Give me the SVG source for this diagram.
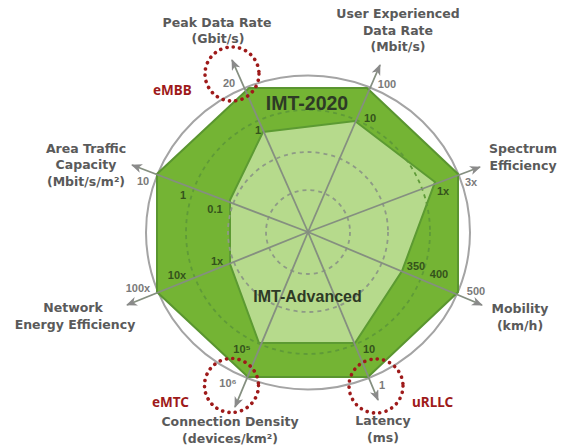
<svg xmlns="http://www.w3.org/2000/svg" width="561" height="447" viewBox="0 0 561 447">
<defs>
<marker id="arr" markerUnits="userSpaceOnUse" markerWidth="12" markerHeight="10" refX="10" refY="4.5" orient="auto">
<path d="M0,0 L11,4.5 L0,9 L3,4.5 z" fill="#8a8a8a"/>
</marker>
<style>
.lbl{font-family:"DejaVu Sans",sans-serif;font-weight:bold;font-size:12.5px;fill:#5a5a5a;text-anchor:middle}
.num{font-family:"Liberation Sans",Arial,sans-serif;font-weight:bold;font-size:11px;text-anchor:middle}
.out{fill:#7a7a7a}
.in{fill:#34531c}
.axis{stroke:#858f80;stroke-width:1.8;fill:none}
.red{fill:none;stroke:#9e1a1a;stroke-width:3.6;stroke-dasharray:0.1 6.3;stroke-linecap:round}
.redt{font-family:"Noto Sans",sans-serif;font-weight:bold;font-size:13.5px;fill:#9e1a1a}
.title{font-family:"Liberation Sans",Arial,sans-serif;font-weight:bold;fill:#2e3a26;text-anchor:middle}
</style>
</defs>
<rect width="561" height="447" fill="#ffffff"/>

<g id="chart">
<ellipse cx="308" cy="232.5" rx="162" ry="157" fill="none" stroke="#a4a4a4" stroke-width="2"/>
<polygon id="imt2020" points="249,88 367,88 458,174 458,292 368,377 248,377 157,292 157,174" fill="#74b434" stroke="#5a9530" stroke-width="2"/>
<polygon id="imtadv" points="263,132 355,121 435,182 402,271 355,343 259,343 230,264 230,200" fill="#b6da8c" stroke="#5c9a32" stroke-width="2"/>
<circle cx="308" cy="232" r="42" fill="none" stroke="#8e9a86" stroke-width="1.8" stroke-dasharray="4 4"/>
<circle cx="308" cy="232" r="80" fill="none" stroke="#8e9a86" stroke-width="1.8" stroke-dasharray="4 4"/>
<circle cx="308" cy="232" r="122" fill="none" stroke="#5f9a38" stroke-width="1.8" stroke-dasharray="4 4"/>
</g>

<g id="connectors">
<line class="axis" x1="308" y1="232" x2="232" y2="60" marker-end="url(#arr)"/>
<line class="axis" x1="308" y1="232" x2="380" y2="65" marker-end="url(#arr)"/>
<line class="axis" x1="308" y1="232" x2="480" y2="167" marker-end="url(#arr)"/>
<line class="axis" x1="308" y1="232" x2="482" y2="305" marker-end="url(#arr)"/>
<line class="axis" x1="308" y1="232" x2="378" y2="400" marker-end="url(#arr)"/>
<line class="axis" x1="308" y1="232" x2="235" y2="407" marker-end="url(#arr)"/>
<line class="axis" x1="308" y1="232" x2="127" y2="305" marker-end="url(#arr)"/>
<line class="axis" x1="308" y1="232" x2="132" y2="165" marker-end="url(#arr)"/>
</g>

<g id="titles">
<text class="title" x="307" y="110" font-size="19.5">IMT-2020</text>
<text class="title" x="307.5" y="302" font-size="16">IMT-Advanced</text>
</g>

<g id="peak">
<text class="lbl" x="217" y="27">Peak Data Rate</text>
<text class="lbl" x="218" y="43">(Gbit/s)</text>
<text class="num out" x="229" y="87">20</text>
<text class="num in" x="258" y="134">1</text>
</g>
<g id="user">
<text class="lbl" x="398" y="18">User Experienced</text>
<text class="lbl" x="398" y="35">Data Rate</text>
<text class="lbl" x="398" y="51">(Mbit/s)</text>
<text class="num out" x="387" y="88">100</text>
<text class="num in" x="370" y="122">10</text>
</g>
<g id="spectrum">
<text class="lbl" x="523" y="153">Spectrum</text>
<text class="lbl" x="523" y="170">Efficiency</text>
<text class="num out" x="471" y="186">3x</text>
<text class="num in" x="443" y="195">1x</text>
</g>
<g id="mobility">
<text class="lbl" x="520" y="313">Mobility</text>
<text class="lbl" x="520" y="330">(km/h)</text>
<text class="num in" x="416" y="270">350</text>
<text class="num in" x="439" y="278">400</text>
<text class="num out" x="476" y="295">500</text>
</g>
<g id="latency">
<text class="lbl" x="383" y="425">Latency</text>
<text class="lbl" x="383" y="442">(ms)</text>
<text class="num in" x="369" y="353">10</text>
<text class="num out" x="382" y="389">1</text>
</g>
<g id="connection">
<text class="lbl" x="230" y="426">Connection Density</text>
<text class="lbl" x="230" y="443">(devices/km²)</text>
<text class="num in" x="242" y="353">10⁵</text>
<text class="num out" x="228" y="387">10⁶</text>
</g>
<g id="network">
<text class="lbl" x="73" y="312">Network</text>
<text class="lbl" x="75" y="329">Energy Efficiency</text>
<text class="num out" x="138" y="292">100x</text>
<text class="num in" x="177" y="279">10x</text>
<text class="num in" x="217" y="265">1x</text>
</g>
<g id="area">
<text class="lbl" x="86" y="153">Area Traffic</text>
<text class="lbl" x="86" y="169">Capacity</text>
<text class="lbl" x="86" y="186">(Mbit/s/m²)</text>
<text class="num out" x="143" y="185">10</text>
<text class="num in" x="183" y="199">1</text>
<text class="num in" x="215" y="213">0.1</text>
</g>

<g id="embb">
<circle class="red" cx="232" cy="74" r="27"/>
<text class="redt" x="153" y="95">eMBB</text>
</g>
<g id="emtc">
<circle class="red" cx="231.5" cy="385.5" r="27"/>
<text class="redt" x="152" y="407">eMTC</text>
</g>
<g id="urllc">
<circle class="red" cx="376" cy="386" r="27"/>
<text class="redt" x="412" y="407">uRLLC</text>
</g>
</svg>
